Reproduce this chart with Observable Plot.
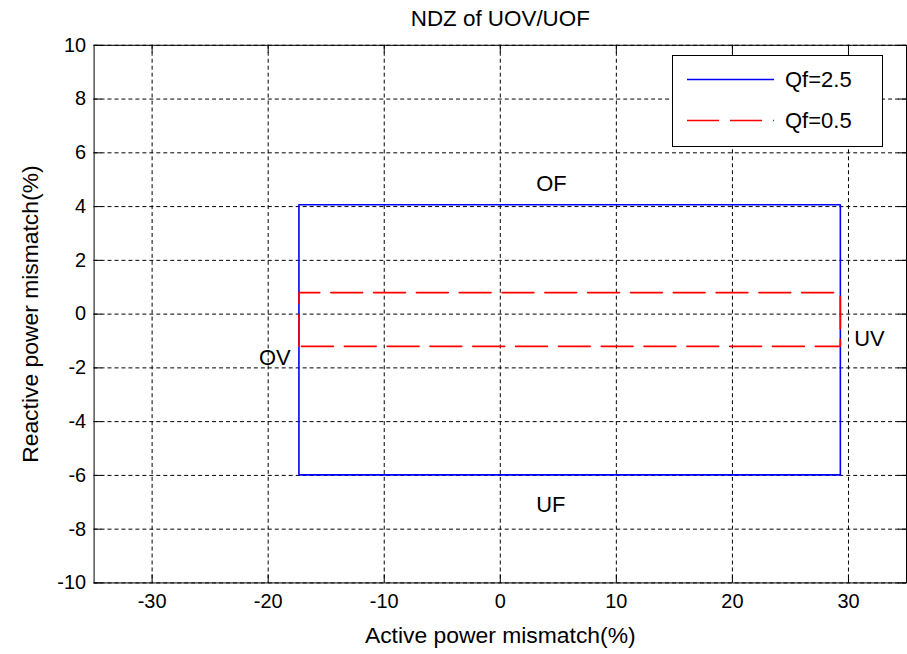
<!DOCTYPE html>
<html><head><meta charset="utf-8">
<script src="https://cdn.jsdelivr.net/npm/d3@7"></script>
<script src="https://cdn.jsdelivr.net/npm/@observablehq/plot@0.6"></script>
<style>
html,body{margin:0;padding:0;background:#fff;overflow:hidden;}
#wrap{position:relative;width:907px;height:654px;overflow:hidden;font-family:"Liberation Sans",Arial,sans-serif;}
#legend{position:absolute;left:672px;top:55px;width:211px;height:92px;box-sizing:border-box;border:1px solid #000;background:#fff;}
</style></head><body><div id="wrap"></div>
<script>
const titleText = "NDZ of UOV/UOF";
const xLabel = "Active power mismatch(%)";
const yLabel = "Reactive power mismatch(%)";
const xTicks = [-30, -20, -10, 0, 10, 20, 30];
const yTicks = [-10, -8, -6, -4, -2, 0, 2, 4, 6, 8, 10];
const xDomain = [-35, 35];
const yDomain = [-10, 10];
const seriesNames = ["Qf=2.5", "Qf=0.5"];
const seriesColors = ["#0000ff", "#ff0000"];
const seriesDash = [null, "32,11"];
// Qf=2.5 boundary (solid)
const qf25X = [-17.35, 29.3, 29.3, -17.35, -17.35];
const qf25Y = [4.07, 4.07, -5.98, -5.98, 4.07];
// Qf=0.5 boundary (dashed)
const qf05X = [-17.35, -17.35, 29.3, 29.3, -17.35];
const qf05Y = [-1.2, 0.8, 0.8, -1.2, -1.2];
const regionNames = ["OF", "UF", "OV", "UV"];
const regionX = [3.1, 3.1, -20.8, 30.5];
const regionY = [4.85, -7.1, -1.65, -0.91];

const W = 911, H = 654, mL = 94, mR = 1, mT = 45, mB = 69;
const plotH = H - mT - mB, plotW = W - mL - mR;
const tickLen = 8;

const s25 = qf25X.map((x, i) => ({x, y: qf25Y[i]}));
const s05 = qf05X.map((x, i) => ({x, y: qf05Y[i]}));
const regions = regionNames.map((t, i) => ({t, x: regionX[i], y: regionY[i]}));
const grid = {stroke: "#000", strokeOpacity: 1, strokeWidth: 1, strokeDasharray: "4,3"};

const chart = Plot.plot({
  width: W, height: H,
  marginLeft: mL, marginRight: mR, marginTop: mT, marginBottom: mB,
  style: {fontFamily: '"Liberation Sans", Arial, sans-serif', color: "#000", background: "#fff", overflow: "visible"},
  x: {domain: xDomain, axis: null},
  y: {domain: yDomain, axis: null},
  marks: [
    Plot.ruleX(xTicks, {x: d => d, ...grid}),
    Plot.ruleY(yTicks, {y: d => d, ...grid}),
    Plot.line(s25, {x: "x", y: "y", stroke: seriesColors[0], strokeWidth: 1.6}),
    Plot.line(s05, {x: "x", y: "y", stroke: seriesColors[1], strokeWidth: 1.6, strokeDasharray: seriesDash[1]}),
    Plot.frame({stroke: "#000", strokeWidth: 1}),
    Plot.ruleX(xTicks, {x: d => d, stroke: "#000", insetTop: plotH - tickLen}),
    Plot.ruleX(xTicks, {x: d => d, stroke: "#000", insetBottom: plotH - tickLen}),
    Plot.ruleY(yTicks, {y: d => d, stroke: "#000", insetRight: plotW - tickLen}),
    Plot.ruleY(yTicks, {y: d => d, stroke: "#000", insetLeft: plotW - tickLen}),
    Plot.axisX({ticks: xTicks, tickSize: 0, tickPadding: 11, fontSize: 20, label: null, tickFormat: d => String(d)}),
    Plot.axisY({ticks: yTicks, tickSize: 0, tickPadding: 8, fontSize: 20, label: null, tickFormat: d => String(d)}),
    Plot.text(regions, {x: "x", y: "y", text: "t", textAnchor: "start", lineAnchor: "middle", fontSize: 22, fill: "#000"}),
    Plot.text([titleText], {frameAnchor: "top", textAnchor: "middle", lineAnchor: "middle", dy: -26.5, fontSize: 22.5, fill: "#000", letterSpacing: 0.3}),
    Plot.text([xLabel], {frameAnchor: "bottom", textAnchor: "middle", lineAnchor: "middle", dy: 53, fontSize: 23, fill: "#000", letterSpacing: 1.3}),
    Plot.text([yLabel], {frameAnchor: "left", textAnchor: "middle", lineAnchor: "middle", dx: -64, rotate: -90, fontSize: 23, fill: "#000", letterSpacing: 2.8})
  ]
});
const wrap = document.getElementById("wrap");
wrap.appendChild(chart);

// legend
const leg = d3.select(wrap).append("div").attr("id", "legend");
const lsvg = leg.append("svg").attr("width", 209).attr("height", 90);
seriesNames.forEach((name, i) => {
  const yy = 23.5 + i * 41;
  lsvg.append("line").attr("x1", 14).attr("x2", 101).attr("y1", yy).attr("y2", yy)
    .attr("stroke", seriesColors[i]).attr("stroke-width", 1.6)
    .attr("stroke-dasharray", seriesDash[i]);
  lsvg.append("text").attr("x", 112).attr("y", yy).attr("dy", "0.35em")
    .attr("font-size", 22).attr("font-family", '"Liberation Sans", Arial, sans-serif')
    .attr("fill", "#000").text(name);
});
</script></body></html>
